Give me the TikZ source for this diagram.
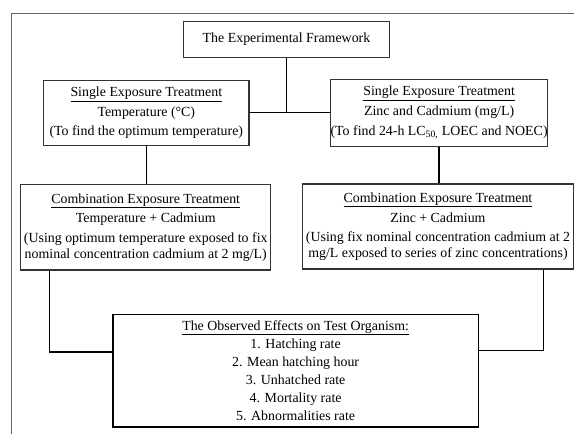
\documentclass[tikz,border=0pt]{standalone}
\usepackage{fontspec}
\setmainfont{Liberation Serif}
\usetikzlibrary{arrows}
\usetikzlibrary{shapes}

\begin{document}
\begin{tikzpicture}[x = 1pt, y = -1pt]
\tikzstyle{BoxStyle}=[shape = rectangle,
                      draw = black!80,
                      line width = 1.1pt,
                      inner sep = 0pt,
                      align = center,
                      font = \fontsize{13.9}{15.6}\selectfont]
\tikzstyle{LinkStyle}=[draw = black, line width = 1.3pt]
\useasboundingbox (0,0) rectangle (574,434);
\draw[black!60, line width = 1.5pt] (574,13.7) -| (11.7,434);
\node[BoxStyle, minimum width = 205.6pt, minimum height = 36pt] (b0) at (286.5,39.3) {The Experimental Framework};
\node[BoxStyle, minimum width = 205.4pt, minimum height = 64.5pt] (b1) at (146.3,112.8) {\underline{Single Exposure Treatment}\\[4.2pt] Temperature (°C)\\[4.2pt] (To find the optimum temperature)};
\node[BoxStyle, minimum width = 213pt, minimum height = 66.7pt] (b2) at (439.1,112.8) {\underline{Single Exposure Treatment}\\[4.2pt] Zinc and Cadmium (mg/L)\\[4.2pt] (To find 24-h LC\textsubscript{50,} LOEC and NOEC)};
\node[BoxStyle, minimum width = 249.7pt, minimum height = 85.4pt] (b3) at (145.75,227.3) {\underline{Combination Exposure Treatment}\\[4.2pt] Temperature + Cadmium\\[4.2pt] (Using optimum temperature exposed to fix\\ nominal concentration cadmium at 2 mg/L)};
\node[BoxStyle, minimum width = 270.7pt, minimum height = 85pt] (b4) at (438,226.5) {\underline{Combination Exposure Treatment}\\[4.2pt] Zinc + Cadmium\\[4.2pt] (Using fix nominal concentration cadmium at 2\\ mg/L exposed to series of zinc concentrations)};
\node[BoxStyle, draw = black, line width = 1.6pt, minimum width = 365.6pt, minimum height = 112.4pt, font = \fontsize{13.9}{18}\selectfont] (b5) at (295.6,370.5) {\underline{The Observed Effects on Test Organism:}\\ 1. Hatching rate\\ 2. Mean hatching hour\\ 3. Unhatched rate\\ 4. Mortality rate\\ 5. Abnormalities rate};
\draw[LinkStyle] (b1.east) -- (b2.west);
\draw[LinkStyle] (b0.south) -- (b0.south |- b1.east);
\draw[LinkStyle] (b1.south) -- (b1.south |- b3.north);
\draw[LinkStyle] (b2.south) -- (b2.south |- b4.north);
\draw[LinkStyle] ([xshift = 29pt]b3.south west) |- ([yshift = 18.5pt]b5.west);
\draw[LinkStyle] ([xshift = -30.4pt]b4.south east) |- ([yshift = 19.8pt]b5.east);
\end{tikzpicture}
\end{document}
